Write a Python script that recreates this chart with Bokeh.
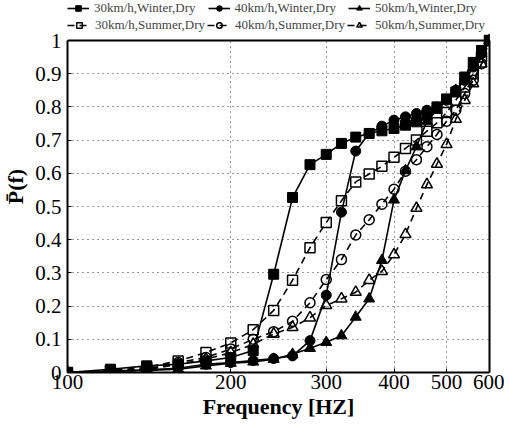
from bokeh.plotting import figure
from bokeh.models import (Legend, LegendItem, FixedTicker, LinearAxis, Span,
                          BoxAnnotation)
from bokeh.embed import file_html
from bokeh.resources import INLINE

freq = [100, 120, 140, 160, 180, 200, 220, 240, 260, 280, 300, 320, 340,
        360, 380, 400, 420, 440, 460, 480, 500, 520, 540, 560, 580, 600]

w30 = [0.0, 0.01, 0.02, 0.025, 0.035, 0.045, 0.066, 0.296, 0.527, 0.626, 0.657, 0.69, 0.709,
       0.72, 0.728, 0.735, 0.745, 0.755, 0.775, 0.80, 0.824, 0.845, 0.89, 0.934, 0.97, 1.0]
w40 = [0.0, 0.004, 0.008, 0.013, 0.025, 0.03, 0.036, 0.042, 0.05, 0.096, 0.233, 0.483, 0.667,
       0.72, 0.742, 0.76, 0.77, 0.78, 0.79, 0.80, 0.82, 0.85, 0.88, 0.92, 0.96, 1.0]
w50 = [0.0, 0.003, 0.006, 0.01, 0.02, 0.028, 0.032, 0.04, 0.055, 0.073, 0.091, 0.111, 0.167,
       0.222, 0.338, 0.52, 0.608, 0.68, 0.757, 0.79, 0.82, 0.85, 0.88, 0.92, 0.96, 1.0]
s30 = [0.0, 0.006, 0.015, 0.035, 0.06, 0.089, 0.129, 0.187, 0.278, 0.376, 0.452, 0.517, 0.574,
       0.598, 0.621, 0.648, 0.675, 0.70, 0.727, 0.752, 0.783, 0.82, 0.86, 0.90, 0.95, 1.0]
s40 = [0.0, 0.004, 0.01, 0.03, 0.045, 0.071, 0.10, 0.123, 0.154, 0.21, 0.28, 0.34, 0.414,
       0.46, 0.507, 0.552, 0.606, 0.641, 0.68, 0.717, 0.757, 0.79, 0.84, 0.88, 0.93, 1.0]
s50 = [0.0, 0.003, 0.008, 0.025, 0.04, 0.06, 0.085, 0.116, 0.136, 0.165, 0.202, 0.222, 0.242,
       0.278, 0.305, 0.355, 0.416, 0.495, 0.566, 0.628, 0.687, 0.763, 0.82, 0.87, 0.93, 1.0]

labels_w = ["30km/h,Winter,Dry", "40km/h,Winter,Dry", "50km/h,Winter,Dry"]
labels_s = ["30km/h,Summer,Dry", "40km/h,Summer,Dry", "50km/h,Summer,Dry"]
markers = ["square", "circle", "triangle"]

xticks = [100, 200, 300, 400, 500, 600]
yticks = [0, 0.1, 0.2, 0.3, 0.4, 0.5, 0.6, 0.7, 0.8, 0.9, 1.0]
ytick_labels = ["0", "0.1", "0.2", "0.3", "0.4", "0.5", "0.6", "0.7", "0.8", "0.9", "1"]

FONT = "Liberation Serif"
MSIZE = [10, 10, 11]
winter = [w30, w40, w50]
summer = [s30, s40, s50]

DATA_H = 332          # pixel height of the 0..1 data area
LEG_H = 40            # legend strip above it, inside the frame
p = figure(x_axis_type="log", x_range=(100, 600), y_range=(0, 1 + LEG_H / DATA_H),
           frame_width=422, frame_height=DATA_H + LEG_H, title=None,
           min_border_left=64, min_border_right=15, min_border_top=0, min_border_bottom=10,
           output_backend="svg", toolbar_location=None)

p.background_fill_color = "white"
p.border_fill_color = "white"
p.outline_line_color = None

# white cover over the legend strip (hides grid lines there)
p.add_layout(BoxAnnotation(bottom=1, fill_color="white", fill_alpha=1,
                           line_color=None, level="underlay"))

items_w = []
items_s = []
for i in range(3):
    lw = p.line(freq, winter[i], line_color="black", line_width=1.6)
    sw = p.scatter(freq, winter[i], marker=markers[i], size=MSIZE[i],
                   fill_color="black", line_color="black")
    items_w.append(LegendItem(label=labels_w[i], renderers=[lw, sw]))
for i in range(3):
    ls = p.line(freq, summer[i], line_color="black", line_width=1.6, line_dash="7 5")
    ss = p.scatter(freq, summer[i], marker=markers[i], size=MSIZE[i],
                   fill_alpha=0, line_color="black", line_width=1.5)
    items_s.append(LegendItem(label=labels_s[i], renderers=[ls, ss]))

FH = DATA_H + LEG_H
for items, top, gw, st, sp in ((items_w, 0, 22, 5, 12),
                               (items_s, 17, 24, 4, 2)):
    lg = Legend(items=items, orientation="horizontal", location=(0, FH - top - 16),
                label_text_font=FONT, label_text_font_size="13px",
                label_standoff=st, glyph_width=gw, glyph_height=14, label_height=14,
                spacing=sp, padding=1, margin=0,
                border_line_color=None, background_fill_alpha=0)
    p.add_layout(lg)

xax = p.xaxis[0]
yax = p.yaxis[0]
xax.ticker = FixedTicker(ticks=xticks)
xax.major_label_overrides = {t: str(t) for t in xticks}
yax.ticker = FixedTicker(ticks=yticks)
yax.major_label_overrides = {t: l for t, l in zip(yticks, ytick_labels)}
yax.bounds = (0, 1)

for ax in (xax, yax):
    ax.axis_line_width = 2
    ax.axis_line_color = "black"
    ax.major_tick_in = 4
    ax.major_tick_out = 0
    ax.minor_tick_line_color = None
    ax.major_label_text_font = FONT
    ax.major_label_text_font_size = "21px"
    ax.major_label_text_color = "black"
    ax.axis_label_text_font = FONT
    ax.axis_label_text_font_style = "bold"
    ax.axis_label_text_font_size = "22px"
    ax.axis_label_text_color = "black"

xax.axis_label = "Frequency [HZ]"
xax.major_label_standoff = 2
xax.axis_label_standoff = 2
yax.axis_label = "P\u0304(f)"
yax.major_label_standoff = 6
yax.axis_label_standoff = 4

# box border around the 0..1 area (top line and a bare right axis line)
p.add_layout(Span(location=1, dimension="width", line_color="black", line_width=2))
rax = LinearAxis(bounds=(0, 1), ticker=FixedTicker(ticks=[]), axis_line_width=2,
                 axis_line_color="black", major_tick_line_color=None,
                 minor_tick_line_color=None, major_label_text_alpha=0)
p.add_layout(rax, "right")

p.xgrid.ticker = FixedTicker(ticks=[200, 300, 400, 500])
p.ygrid.ticker = FixedTicker(ticks=yticks[1:-1])
for g in (p.xgrid[0], p.ygrid[0]):
    g.grid_line_color = "black"
    g.grid_line_dash = "1 4"
    g.grid_line_width = 1
    g.grid_line_alpha = 0.8

open("out.html", "w").write(file_html(p, INLINE))
